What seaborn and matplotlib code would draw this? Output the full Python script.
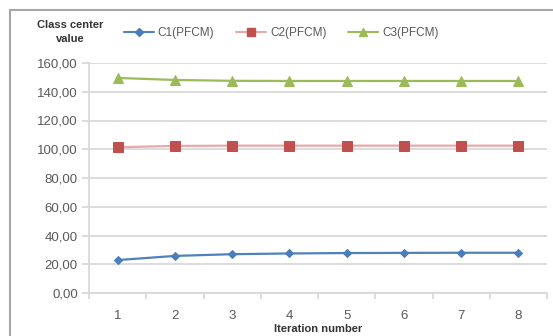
import matplotlib
matplotlib.use("Agg")
import matplotlib.pyplot as plt
import seaborn as sns
import pandas as pd
from matplotlib.patches import Rectangle
from matplotlib.lines import Line2D
from matplotlib.ticker import FuncFormatter, FixedLocator

iterations = [1, 2, 3, 4, 5, 6, 7, 8]
c1 = [22.9, 25.8, 27.0, 27.5, 27.8, 27.9, 28.0, 28.0]
c2 = [101.4, 102.3, 102.5, 102.5, 102.5, 102.5, 102.5, 102.5]
c3 = [149.6, 148.2, 147.6, 147.5, 147.5, 147.5, 147.5, 147.5]
series_names = ["C1(PFCM)", "C2(PFCM)", "C3(PFCM)"]
y_ticks = [0, 20, 40, 60, 80, 100, 120, 140, 160]

df = pd.DataFrame({
    "iteration": iterations * 3,
    "value": c1 + c2 + c3,
    "series": [series_names[0]] * 8 + [series_names[1]] * 8 + [series_names[2]] * 8,
})

sns.set_theme(style="white")
plt.rcParams["font.family"] = ["Liberation Sans", "DejaVu Sans"]

fig = plt.figure(figsize=(5.53, 3.36), dpi=100)
ax = fig.add_axes([89 / 553, 1 - 293 / 336, (547 - 89) / 553, (293 - 63) / 336])

line_colors = ["#4F81BD", "#E8A9A9", "#9BBB59"]
marker_colors = ["#4A7EBB", "#C0504D", "#9BBB59"]
markers = ["D", "s", "^"]
msizes = [4.5, 7, 6.5]

sns.lineplot(data=df, x="iteration", y="value", hue="series", style="series",
             palette=dict(zip(series_names, line_colors)),
             markers=dict(zip(series_names, markers)), dashes=False,
             linewidth=1.6, ax=ax, legend=False, zorder=3)

for ln, mc, ms in zip(ax.get_lines(), marker_colors, msizes):
    ln.set_markerfacecolor(mc)
    ln.set_markeredgecolor(mc)
    ln.set_markersize(ms)

ax.set_xlim(0.5, 8.5)
ax.set_ylim(0, 160)
ax.set_yticks(y_ticks)
ax.yaxis.set_major_formatter(FuncFormatter(lambda v, p: f"{v:.2f}".replace(".", ",")))
ax.set_xticks(iterations)
ax.xaxis.set_minor_locator(FixedLocator([i + 0.5 for i in range(0, 9)]))
ax.grid(axis="y", color="#D9D9D9", linewidth=1.3)
ax.set_axisbelow(True)

for s in ["top", "right"]:
    ax.spines[s].set_visible(False)
ax.spines["left"].set_color("#D9D9D9")
ax.spines["bottom"].set_color("#D9D9D9")
ax.spines["left"].set_linewidth(1.3)
ax.spines["bottom"].set_linewidth(1.3)

ax.tick_params(axis="y", which="major", length=5, width=1.3, color="#D9D9D9",
               labelsize=9.5, labelcolor="#595959", pad=3, left=True)
ax.tick_params(axis="x", which="major", length=0, labelsize=9.5, labelcolor="#595959", pad=12)
ax.tick_params(axis="x", which="minor", length=4, width=1.3, color="#D9D9D9", bottom=True)

ax.set_xlabel("Iteration number", fontsize=8, fontweight="bold", color="#333333", labelpad=0)
ax.xaxis.set_label_coords(0.5, -0.157)
ax.xaxis.label.set_va("center")
ax.set_ylabel("")

fig.text(70 / 553, 1 - 32 / 336, "Class center\nvalue", ha="center", va="center",
         fontsize=8, fontweight="bold", color="#333333", linespacing=1.4)

handles = [Line2D([0], [0], color=lc, marker=m, markerfacecolor=mc, markeredgecolor=mc,
                  markersize=ms * 0.8, linewidth=1.5)
           for lc, mc, m, ms in zip(line_colors, marker_colors, markers, msizes)]
fig.legend(handles, series_names, loc="center left", bbox_to_anchor=(113 / 553, 1 - 33 / 336),
           ncol=3, frameon=False, fontsize=8.5, handlelength=2.6, columnspacing=1.8,
           handletextpad=0.3, labelcolor="#595959")

fig.patches.append(Rectangle((10 / 553, -0.1), 1.0, 1 - 10 / 336 + 0.1, transform=fig.transFigure,
                             fill=False, edgecolor="#A6A6A6", linewidth=1.5))

fig.savefig("out.png", dpi=100)
